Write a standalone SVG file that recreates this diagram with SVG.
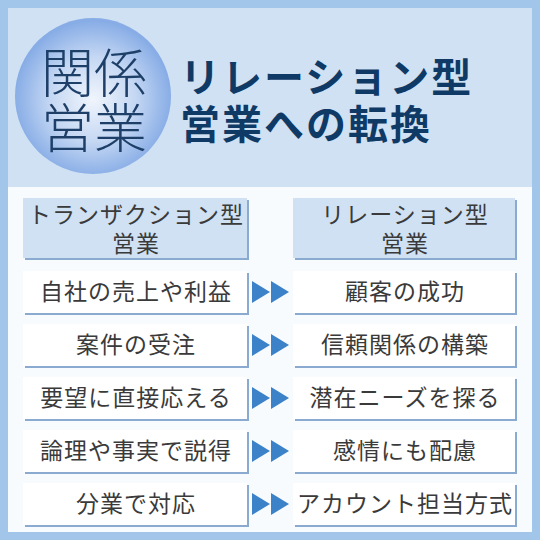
<svg xmlns="http://www.w3.org/2000/svg" width="540" height="540" viewBox="0 0 540 540">
<defs>
<radialGradient id="cg" cx="50%" cy="52%" r="50%">
<stop offset="0" stop-color="#f0f5fc"/>
<stop offset="0.55" stop-color="#c4d7f3"/>
<stop offset="1" stop-color="#88ade6"/>
</radialGradient>
<style>
.jp{font-family:"Noto Sans CJK JP","Noto Sans CJK SC",sans-serif}
.hdr{fill:#cfe1f3}
.box{fill:#ffffff}
.sh{fill:#8aaad0}
.t{font-size:23px;fill:#3a3a3a;text-anchor:middle;letter-spacing:1px}
.arr{fill:#3b82c9}
</style>
</defs>
<rect x="0" y="0" width="540" height="540" fill="#a2c5ea"/>
<rect x="8" y="8" width="524" height="179" fill="#cfe1f3"/>
<rect x="8" y="187" width="524" height="345" fill="#f8fbfe"/>

<g id="title">
<circle cx="93" cy="96" r="78" fill="url(#cg)"/>
<text class="jp" x="94" y="93" font-size="53" font-weight="300" fill="#1d3f68" text-anchor="middle">関係</text>
<text class="jp" x="94" y="148" font-size="53" font-weight="300" fill="#1d3f68" text-anchor="middle">営業</text>
<text class="jp" x="180" y="92" font-size="40" font-weight="700" fill="#0f3a66" letter-spacing="2">リレーション型</text>
<text class="jp" x="180" y="139" font-size="40" font-weight="700" fill="#0f3a66" letter-spacing="2">営業への転換</text>
</g>

<g id="header-left">
<rect class="sh" x="25" y="200" width="224" height="60"/>
<rect class="hdr" x="23" y="198" width="224" height="60"/>
<text class="jp t" x="136" y="223">トランザクション型</text>
<text class="jp t" x="136" y="252">営業</text>
</g>
<g id="header-right">
<rect class="sh" x="295" y="200" width="222" height="60"/>
<rect class="hdr" x="293" y="198" width="222" height="60"/>
<text class="jp t" x="405" y="223">リレーション型</text>
<text class="jp t" x="405" y="252">営業</text>
</g>

<g id="left-1"><rect class="sh" x="25" y="273" width="224" height="42"/><rect class="box" x="23" y="271" width="224" height="42"/><text class="jp t" x="136" y="300">自社の売上や利益</text></g>
<g id="left-2"><rect class="sh" x="25" y="326" width="224" height="42"/><rect class="box" x="23" y="324" width="224" height="42"/><text class="jp t" x="136" y="353">案件の受注</text></g>
<g id="left-3"><rect class="sh" x="25" y="379" width="224" height="42"/><rect class="box" x="23" y="377" width="224" height="42"/><text class="jp t" x="136" y="406">要望に直接応える</text></g>
<g id="left-4"><rect class="sh" x="25" y="432" width="224" height="42"/><rect class="box" x="23" y="430" width="224" height="42"/><text class="jp t" x="136" y="459">論理や事実で説得</text></g>
<g id="left-5"><rect class="sh" x="25" y="485" width="224" height="42"/><rect class="box" x="23" y="483" width="224" height="42"/><text class="jp t" x="136" y="512">分業で対応</text></g>

<g id="right-1"><rect class="sh" x="295" y="273" width="222" height="42"/><rect class="box" x="293" y="271" width="222" height="42"/><text class="jp t" x="405" y="300">顧客の成功</text></g>
<g id="right-2"><rect class="sh" x="295" y="326" width="222" height="42"/><rect class="box" x="293" y="324" width="222" height="42"/><text class="jp t" x="405" y="353">信頼関係の構築</text></g>
<g id="right-3"><rect class="sh" x="295" y="379" width="222" height="42"/><rect class="box" x="293" y="377" width="222" height="42"/><text class="jp t" x="405" y="406">潜在ニーズを探る</text></g>
<g id="right-4"><rect class="sh" x="295" y="432" width="222" height="42"/><rect class="box" x="293" y="430" width="222" height="42"/><text class="jp t" x="405" y="459">感情にも配慮</text></g>
<g id="right-5"><rect class="sh" x="295" y="485" width="222" height="42"/><rect class="box" x="293" y="483" width="222" height="42"/><text class="jp t" x="405" y="512">アカウント担当方式</text></g>

<g id="connectors">
<polygon class="arr" points="252,281 270,292 252,303"/><polygon class="arr" points="271,281 289,292 271,303"/>
<polygon class="arr" points="252,334 270,345 252,356"/><polygon class="arr" points="271,334 289,345 271,356"/>
<polygon class="arr" points="252,387 270,398 252,409"/><polygon class="arr" points="271,387 289,398 271,409"/>
<polygon class="arr" points="252,440 270,451 252,462"/><polygon class="arr" points="271,440 289,451 271,462"/>
<polygon class="arr" points="252,493 270,504 252,515"/><polygon class="arr" points="271,493 289,504 271,515"/>
</g>
</svg>
